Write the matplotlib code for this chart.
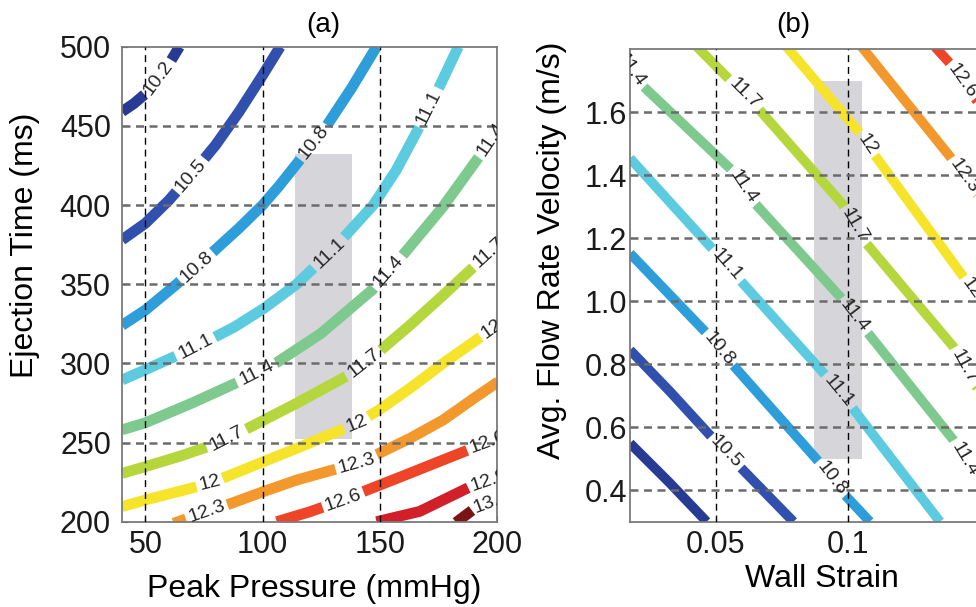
import numpy as np
import matplotlib.pyplot as plt
from matplotlib.patches import Rectangle

plt.rcParams['font.family'] = ['Liberation Sans', 'DejaVu Sans']

# ---------------------------------------------------------------
# (a) contour lines: Peak Pressure x Ejection Time
# ---------------------------------------------------------------
a_xticks = [50, 100, 150, 200]
a_yticks = [200, 250, 300, 350, 400, 450, 500]
a_box = (114, 252, 24, 180)           # grey band: x, y, width, height

a102_x = [40, 45, 49.8, 55, 60, 64.5]
a102_y = [459, 464, 470, 479, 489, 500]
a102_lab = [(55, 481)]

a105_x = [40, 50, 60, 70, 80, 90, 100, 107.5]
a105_y = [378, 388.5, 403, 420, 438, 459, 482, 500]
a105_lab = [(68.3, 420)]

a108_x = [40, 50, 63.3, 80, 90, 100, 107, 114, 127.3, 138, 148.6]
a108_y = [324, 333.7, 350, 372, 385.5, 400, 412, 425, 450, 474, 500]
a108_lab = [(71.8, 361), (122.3, 439)]

a111_x = [40, 50, 71, 88, 100.3, 114.5, 130, 147.2, 157, 167.1, 175.5, 183.5]
a111_y = [289.5, 296, 310, 323, 334.5, 350, 372, 400, 422, 450, 475, 500]
a111_lab = [(71.1, 311), (126.6, 372.6), (171.3, 461.1)]

a114_x = [40, 50, 70, 90, 106, 125, 147.2, 158.5, 177, 195.5, 201]
a114_y = [258, 262.5, 275, 288.5, 300.5, 319, 347, 366, 399, 437, 449]
a114_lab = [(97.4, 293.7), (152.8, 359), (196.9, 442)]

a117_x = [40, 50, 65, 81.8, 100.3, 114.5, 137.2, 149.7, 162.8, 177, 191.2, 200.5]
a117_y = [230.5, 234.8, 241.5, 250, 264, 274.8, 293, 307.5, 324, 343, 362.5, 375]
a117_lab = [(84.6, 252.6), (143.6, 299), (196.9, 369.5)]

a120_x = [40, 50, 77.5, 100.3, 114.5, 140.1, 149.7, 162.8, 177, 191.2, 200.5]
a120_y = [209.5, 213.7, 224.2, 237.9, 246.3, 262.1, 270.6, 284.2, 300, 314.8, 324.5]
a120_lab = [(77.5, 224.2), (140.1, 262.1), (197.6, 322.1)]

a123_x = [62, 76.1, 84.6, 100.3, 114.5, 140.1, 149.7, 162.8, 177, 191.2, 200.5]
a123_y = [199, 206.3, 210.5, 219, 226.3, 236.9, 243.2, 252.6, 264.2, 279, 288.4]
a123_lab = [(76.1, 206.3), (140.1, 236.9)]

a126_x = [106, 120.2, 134.4, 142.9, 162.8, 177, 188.4, 194.8, 200.5]
a126_y = [200, 206.3, 213.7, 219, 230.6, 239, 245.7, 249.5, 252.6]
a126_lab = [(134.4, 213.7), (196, 250)]

a129_x = [148.6, 167, 188.5, 200.5]
a129_y = [200, 206.5, 222, 228]
a129_lab = [(197, 224)]

a132_x = [182.5, 190.6, 200.5]
a132_y = [199.5, 208.5, 214]
a132_lab = [(198.5, 210)]

# ---------------------------------------------------------------
# (b) Wall Strain x Avg. Flow Rate Velocity
# ---------------------------------------------------------------
b_xticks = [0.05, 0.1]
b_xticklabels = ['0.05', '0.1']
b_yticks = [0.4, 0.6, 0.8, 1.0, 1.2, 1.4, 1.6]
b_yticklabels = ['0.4', '0.6', '0.8', '1.0', '1.2', '1.4', '1.6']
b_box = (0.087, 0.5, 0.018, 1.2)

b102_x = [0.0177, 0.0328, 0.0466]
b102_y = [0.549, 0.422, 0.300]
b102_lab = []

b105_x = [0.0177, 0.0328, 0.0478, 0.0566, 0.0793]
b105_y = [0.845, 0.713, 0.575, 0.496, 0.300]
b105_lab = [(0.0541, 0.523)]

b108_x = [0.0177, 0.0472, 0.0554, 0.0893, 0.0981, 0.1081]
b108_y = [1.152, 0.893, 0.808, 0.486, 0.390, 0.300]
b108_lab = [(0.0516, 0.851), (0.0937, 0.438)]

b111_x = [0.0177, 0.0491, 0.0585, 0.0918, 0.1012, 0.1345]
b111_y = [1.454, 1.163, 1.073, 0.761, 0.665, 0.300]
b111_lab = [(0.0541, 1.115), (0.0962, 0.713)]

b114_x = [0.0140, 0.0215, 0.0566, 0.0642, 0.0968, 0.1069, 0.1395, 0.1471, 0.1521]
b114_y = [1.780, 1.692, 1.412, 1.316, 1.015, 0.904, 0.560, 0.454, 0.406]
b114_lab = [(0.0183, 1.737), (0.0604, 1.364), (0.1019, 0.951), (0.1433, 0.496)]

b117_x = [0.0416, 0.0554, 0.0654, 0.0975, 0.1056, 0.1395, 0.1471, 0.1521]
b117_y = [1.819, 1.702, 1.618, 1.311, 1.195, 0.856, 0.740, 0.687]
b117_lab = [(0.0604, 1.655), (0.1019, 1.237), (0.1439, 0.792)]

b120_x = [0.0767, 0.1044, 0.1094, 0.1433, 0.1496, 0.1546]
b120_y = [1.808, 1.533, 1.470, 1.078, 1.004, 0.951]
b120_lab = [(0.1075, 1.501), (0.1465, 1.041)]

b123_x = [0.1050, 0.1383, 0.1471, 0.1521]
b123_y = [1.808, 1.459, 1.353, 1.300]
b123_lab = [(0.1433, 1.396)]

b126_x = [0.1326, 0.1383, 0.1471, 0.1521]
b126_y = [1.808, 1.755, 1.650, 1.597]
b126_lab = [(0.1433, 1.703)]

level_colors = {
    '10.2': '#283b94', '10.5': '#3150ad', '10.8': '#2e9edb', '11.1': '#5ccbe0',
    '11.4': '#7ec98e', '11.7': '#b6d63d', '12': '#f6e42b', '12.3': '#f2982c',
    '12.6': '#ee4529', '12.9': '#d2202b', '13.2': '#7b1515',
}

a_lines = [('10.2', a102_x, a102_y, a102_lab), ('10.5', a105_x, a105_y, a105_lab),
           ('10.8', a108_x, a108_y, a108_lab), ('11.1', a111_x, a111_y, a111_lab),
           ('11.4', a114_x, a114_y, a114_lab), ('11.7', a117_x, a117_y, a117_lab),
           ('12', a120_x, a120_y, a120_lab), ('12.3', a123_x, a123_y, a123_lab),
           ('12.6', a126_x, a126_y, a126_lab), ('12.9', a129_x, a129_y, a129_lab),
           ('13.2', a132_x, a132_y, a132_lab)]
b_lines = [('10.2', b102_x, b102_y, b102_lab), ('10.5', b105_x, b105_y, b105_lab),
           ('10.8', b108_x, b108_y, b108_lab), ('11.1', b111_x, b111_y, b111_lab),
           ('11.4', b114_x, b114_y, b114_lab), ('11.7', b117_x, b117_y, b117_lab),
           ('12', b120_x, b120_y, b120_lab), ('12.3', b123_x, b123_y, b123_lab),
           ('12.6', b126_x, b126_y, b126_lab)]


def draw_level(ax, xs, ys, labels, text, color, lw, fs):
    # thick contour line with inline labels sitting in gaps (MATLAB clabel look)
    fwd = ax.transData.transform
    inv = ax.transData.inverted().transform
    pts = fwd(np.column_stack([xs, ys]))
    d = np.diff(pts, axis=0)
    seglen = np.hypot(d[:, 0], d[:, 1])
    s = np.concatenate([[0], np.cumsum(seglen)])
    fs_px = fs * ax.figure.dpi / 72
    half = 0.5 * fs_px * (0.556 * sum(c.isdigit() for c in text) + 0.278 * text.count('.')) + 3
    gaps = []
    for lx, ly in labels:
        p = fwd((lx, ly))
        best = None
        for i in range(len(d)):
            t = np.clip(np.dot(p - pts[i], d[i]) / seglen[i] ** 2, 0, 1)
            q = pts[i] + t * d[i]
            dist = np.hypot(*(p - q))
            if best is None or dist < best[0]:
                best = (dist, s[i] + t * seglen[i], q, d[i])
        _, sc, q, dv = best
        ang = np.degrees(np.arctan2(dv[1], dv[0]))
        if ang > 90:
            ang -= 180
        elif ang < -90:
            ang += 180
        tx, ty = inv(q)
        ax.text(tx, ty, text, rotation=ang, rotation_mode='anchor', ha='center', va='center',
                fontsize=fs, color='#262626', clip_on=True, zorder=5)
        gaps.append((sc - half, sc + half))
    edges = [0.0]
    for g0, g1 in sorted(gaps):
        edges += [g0, g1]
    edges.append(s[-1])
    for a0, a1 in zip(edges[::2], edges[1::2]):
        a0, a1 = max(a0, 0), min(a1, s[-1])
        if a1 <= a0:
            continue
        inner = (s > a0) & (s < a1)
        sv = np.concatenate([[a0], s[inner], [a1]])
        seg = inv(np.column_stack([np.interp(sv, s, pts[:, 0]), np.interp(sv, s, pts[:, 1])]))
        ax.plot(seg[:, 0], seg[:, 1], color=color, lw=lw, solid_capstyle='butt',
                solid_joinstyle='round', zorder=2)


def style_axes(ax, ypad):
    for sp in ax.spines.values():
        sp.set_color('#7a7a7a')
        sp.set_linewidth(1.3)
    ax.tick_params(direction='in', length=4, width=0.8, color='#333333',
                   labelsize=22, labelcolor='#1a1a1a')
    ax.tick_params(axis='x', pad=6)
    ax.tick_params(axis='y', pad=ypad)


fig = plt.figure(figsize=(9.76, 6.07), dpi=100)
W, H = 976, 607

# ---------------- panel (a) ----------------
ax1 = fig.add_axes([122 / W, (H - 521.7) / H, 375 / W, 475 / H])
ax1.set_xlim(40, 200)
ax1.set_ylim(200, 500)
ax1.set_xticks(a_xticks)
ax1.set_yticks(a_yticks)
style_axes(ax1, 8)
ax1.add_patch(Rectangle(a_box[:2], a_box[2], a_box[3], color='#d5d5da', lw=0, zorder=1))
for xv in a_xticks[:-1]:
    ax1.axvline(xv, color='black', lw=1.0, ls=(0, (5, 3.5)), zorder=3)
for yv in a_yticks[1:-1]:
    ax1.axhline(yv, color='#6b6b6b', lw=1.8, ls=(0, (3.2, 2.2)), zorder=3)
for lev, xs, ys, lab in a_lines:
    draw_level(ax1, xs, ys, lab, lev, level_colors[lev], 7.8, 14)

# ---------------- panel (b) ----------------
ax2 = fig.add_axes([630 / W, (H - 521.7) / H, 375 / W, 472.4 / H])
ax2.set_xlim(0.0177, 0.159)
ax2.set_ylim(0.3, 1.8)
ax2.set_xticks(b_xticks)
ax2.set_xticklabels(b_xticklabels)
ax2.set_yticks(b_yticks)
ax2.set_yticklabels(b_yticklabels)
style_axes(ax2, 2)
ax2.add_patch(Rectangle(b_box[:2], b_box[2], b_box[3], color='#d5d5da', lw=0, zorder=1))
for xv in b_xticks:
    ax2.axvline(xv, color='black', lw=1.0, ls=(0, (5, 3.5)), zorder=3)
for yv in b_yticks:
    ax2.axhline(yv, color='#6b6b6b', lw=1.8, ls=(0, (3.2, 2.2)), zorder=3)
for lev, xs, ys, lab in b_lines:
    draw_level(ax2, xs, ys, lab, lev, level_colors[lev], 7.0, 14)

# titles and axis labels placed where they sit in the original
fig.text(323 / W, 1 - 25 / H, '(a)', ha='center', va='center', fontsize=20)
fig.text(793 / W, 1 - 25 / H, '(b)', ha='center', va='center', fontsize=20)
fig.text(314 / W, 1 - 589 / H, 'Peak Pressure (mmHg)', ha='center', va='center', fontsize=23)
fig.text(822 / W, 1 - 579 / H, 'Wall Strain', ha='center', va='center', fontsize=23)
fig.text(25 / W, 1 - 245 / H, 'Ejection Time (ms)', rotation=90, ha='center', va='center', fontsize=23)
fig.text(552 / W, 1 - 250 / H, 'Avg. Flow Rate Velocity (m/s)', rotation=90, ha='center', va='center', fontsize=23)

fig.savefig('out.png', dpi=100)
